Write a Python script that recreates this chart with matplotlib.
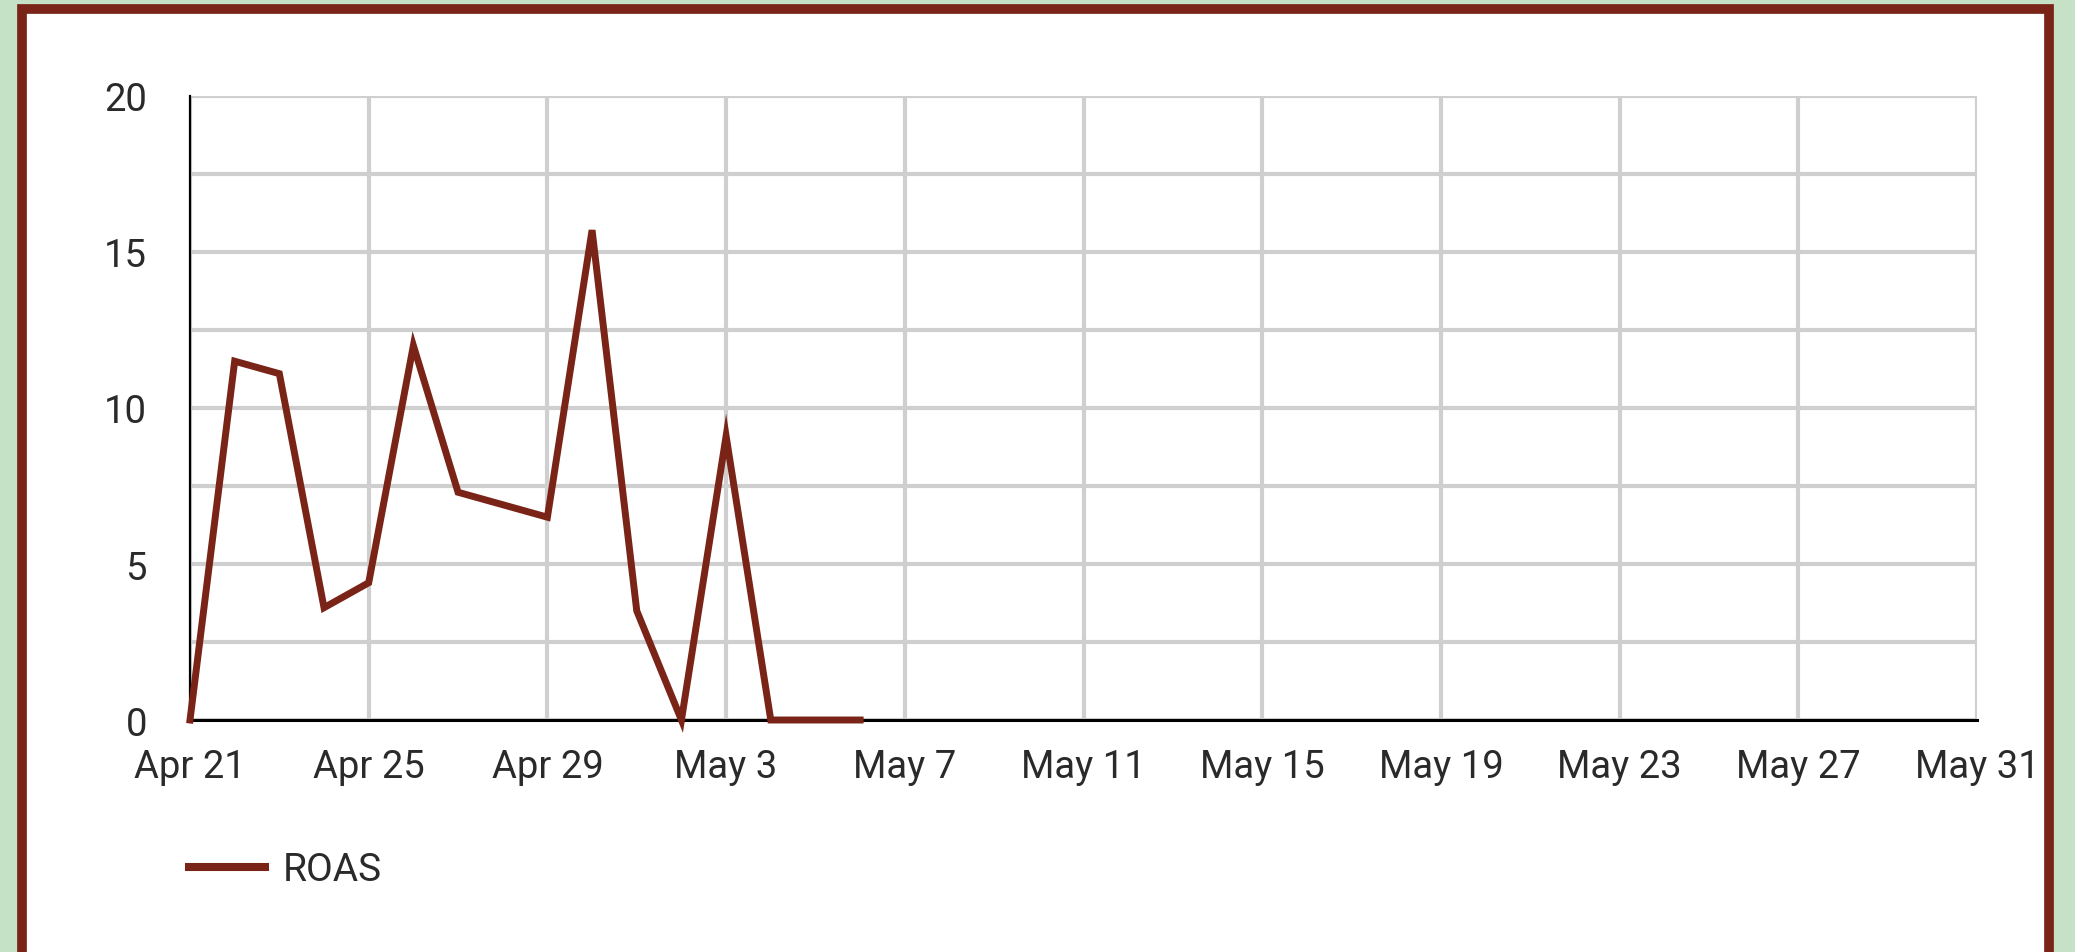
import numpy as np
import pandas as pd
import matplotlib
matplotlib.use("Agg")
import matplotlib.pyplot as plt
from matplotlib.patches import Rectangle

# daily ROAS, Apr 21 - May 6
dates = pd.date_range("2023-04-21", "2023-05-06", freq="D")
roas = [0, 11.5, 11.1, 3.6, 4.4, 12.0, 7.3, 6.9, 6.5, 15.7, 3.5, 0, 9.1, 0, 0, 0]

x_start = pd.Timestamp("2023-04-21")
x_end = pd.Timestamp("2023-05-31")
x_ticks = pd.date_range(x_start, x_end, freq="4D")
x_labels = [f"{d:%b} {d.day}" for d in x_ticks]
y_ticks = [0, 5, 10, 15, 20]

line_col = "#7a2418"
text_col = "#2a2a2a"
grid_col = "#cfcfcf"

plt.rcParams["font.family"] = ["Roboto", "DejaVu Sans"]

W, H = 2075, 953
fig = plt.figure(figsize=(W / 100, H / 100), dpi=100, facecolor="#c6e2c6")

# white card with brown frame, kept behind the axes
fig.patches.append(Rectangle((22 / W, -10 / H), 2027 / W, H / H,
                             transform=fig.transFigure, facecolor="white",
                             edgecolor=line_col, linewidth=7, zorder=-5))

ax = fig.add_axes([190 / W, 1 - 721 / H, (1977 - 190) / W, (721 - 97) / H])
ax.set_facecolor("none")
ax.set_zorder(2)

ax.plot(dates, roas, color=line_col, lw=5, label="ROAS", zorder=5,
        clip_on=False, solid_joinstyle="miter")

ax.set_xlim(x_start, x_end)
ax.set_ylim(0, 20)
ax.set_xticks(x_ticks)
ax.set_xticklabels(x_labels)
ax.set_yticks(y_ticks)
ax.set_yticks(np.arange(2.5, 20, 5), minor=True)

ax.grid(True, which="both", color=grid_col, lw=3)
ax.set_axisbelow(True)
ax.tick_params(which="both", length=0, labelsize=27.5, labelcolor=text_col)
ax.tick_params(axis="y", pad=31)
ax.tick_params(axis="x", pad=20)

for s in ["top", "right"]:
    ax.spines[s].set_visible(False)
ax.spines["left"].set_linewidth(1.6)
ax.spines["bottom"].set_linewidth(2.2)
ax.spines["left"].set_zorder(3)
ax.spines["bottom"].set_zorder(3)

leg = fig.legend(loc="center left", bbox_to_anchor=(189 / W, 1 - 871 / H),
                 frameon=False, fontsize=28, handlelength=1.95,
                 handletextpad=0.45, borderpad=0, borderaxespad=0)
for h in leg.legend_handles:
    h.set_linewidth(5.8)
for t in leg.get_texts():
    t.set_color(text_col)

fig.savefig("out.png", dpi=100, facecolor=fig.get_facecolor())
